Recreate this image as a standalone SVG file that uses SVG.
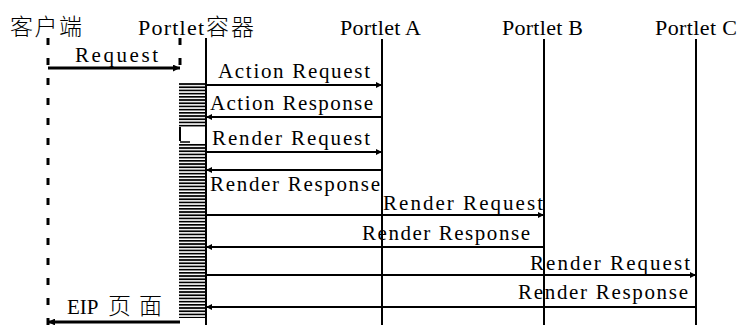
<svg xmlns="http://www.w3.org/2000/svg" width="740" height="325" viewBox="0 0 740 325">
<style>
text{font-family:'Liberation Serif','Times New Roman','DejaVu Serif','Noto Sans CJK SC',serif;fill:#000}
.t{font-size:21px}
.h{font-size:22px}
.cjk{font-family:'Noto Sans CJK SC','Liberation Serif',serif;font-weight:300;font-size:23px}
.life{stroke:#000;stroke-width:2;fill:none}
.dash{stroke:#000;stroke-width:3;stroke-dasharray:7 13;fill:none}
.msg{stroke:#000;stroke-width:2;fill:none}
.msgb{stroke:#000;stroke-width:3;fill:none}
</style>
<defs>
<marker id="ah" viewBox="0 0 10 10" refX="10" refY="5" markerWidth="8" markerHeight="6" markerUnits="userSpaceOnUse" orient="auto">
<path d="M0,0 L10,5 L0,10 z" fill="#000"/>
</marker>
<marker id="ahb" viewBox="0 0 10 10" refX="10" refY="5" markerWidth="9" markerHeight="7" markerUnits="userSpaceOnUse" orient="auto">
<path d="M0,0 L10,5 L0,10 z" fill="#000"/>
</marker>
<pattern id="hatch" width="28" height="3.2" patternUnits="userSpaceOnUse">
<rect x="0" y="0" width="28" height="1.7" fill="#000"/>
</pattern>
</defs>

<g id="client">
<text class="h cjk" x="10" y="35" textLength="72" lengthAdjust="spacing">客户端</text>
<line class="dash" x1="48" y1="38" x2="48" y2="325"/>
</g>

<g id="container">
<text class="h" x="138" y="35"><tspan textLength="66" lengthAdjust="spacing">Portlet</tspan><tspan class="cjk" x="206" textLength="48" lengthAdjust="spacing">容器</tspan></text>
<line class="dash" x1="180" y1="38" x2="180" y2="72"/>
<rect x="179" y="83" width="27" height="235" fill="url(#hatch)"/>
<rect x="179" y="127" width="26" height="16" fill="#fff"/>
<line x1="180" y1="127" x2="180" y2="141" stroke="#000" stroke-width="2"/>
<line x1="180" y1="142" x2="190" y2="142" stroke="#000" stroke-width="1.5"/>
<line class="life" x1="206" y1="38" x2="206" y2="325"/>
</g>

<g id="portletA">
<text class="h" x="340" y="35" textLength="81" lengthAdjust="spacing">Portlet A</text>
<line class="life" x1="382" y1="39" x2="382" y2="325"/>
</g>

<g id="portletB">
<text class="h" x="502" y="35" textLength="81" lengthAdjust="spacing">Portlet B</text>
<line class="life" x1="544" y1="39" x2="544" y2="325"/>
</g>

<g id="portletC">
<text class="h" x="655" y="35" textLength="82" lengthAdjust="spacing">Portlet C</text>
<line class="life" x1="696" y1="39" x2="696" y2="325" stroke-width="3"/>
</g>

<g id="connectors">
<line class="msgb" x1="48" y1="68" x2="180" y2="68" marker-end="url(#ahb)"/>
<text class="t" x="75" y="62" textLength="83" lengthAdjust="spacing">Request</text>

<line class="msg" x1="206" y1="85" x2="382" y2="85" marker-end="url(#ah)"/>
<text class="t" x="218" y="78" textLength="152" lengthAdjust="spacing">Action Request</text>

<line class="msg" x1="382" y1="117" x2="206" y2="117" marker-end="url(#ah)"/>
<text class="t" x="210" y="110" textLength="163" lengthAdjust="spacing">Action Response</text>

<line class="msg" x1="206" y1="152" x2="382" y2="152" marker-end="url(#ah)"/>
<text class="t" x="212" y="145" textLength="158" lengthAdjust="spacing">Render Request</text>

<line class="msg" x1="382" y1="170" x2="206" y2="170" marker-end="url(#ah)"/>
<text class="t" x="210" y="191" textLength="170" lengthAdjust="spacing">Render Response</text>

<line class="msg" x1="206" y1="215" x2="544" y2="215" marker-end="url(#ah)"/>
<text class="t" x="383" y="210" textLength="160" lengthAdjust="spacing">Render Request</text>

<line class="msg" x1="544" y1="247" x2="206" y2="247" marker-end="url(#ah)"/>
<text class="t" x="362" y="240" textLength="168" lengthAdjust="spacing">Render Response</text>

<line class="msg" x1="206" y1="275" x2="696" y2="275" marker-end="url(#ah)"/>
<text class="t" x="530" y="270" textLength="160" lengthAdjust="spacing">Render Request</text>

<line class="msg" x1="696" y1="307" x2="206" y2="307" marker-end="url(#ah)"/>
<text class="t" x="518" y="299" textLength="170" lengthAdjust="spacing">Render Response</text>

<line class="msgb" x1="180" y1="322" x2="48" y2="322" marker-end="url(#ahb)"/>
<text class="t" x="67" y="314"><tspan>EIP</tspan><tspan class="cjk" x="108" textLength="54" lengthAdjust="spacing">页面</tspan></text>
</g>
</svg>
